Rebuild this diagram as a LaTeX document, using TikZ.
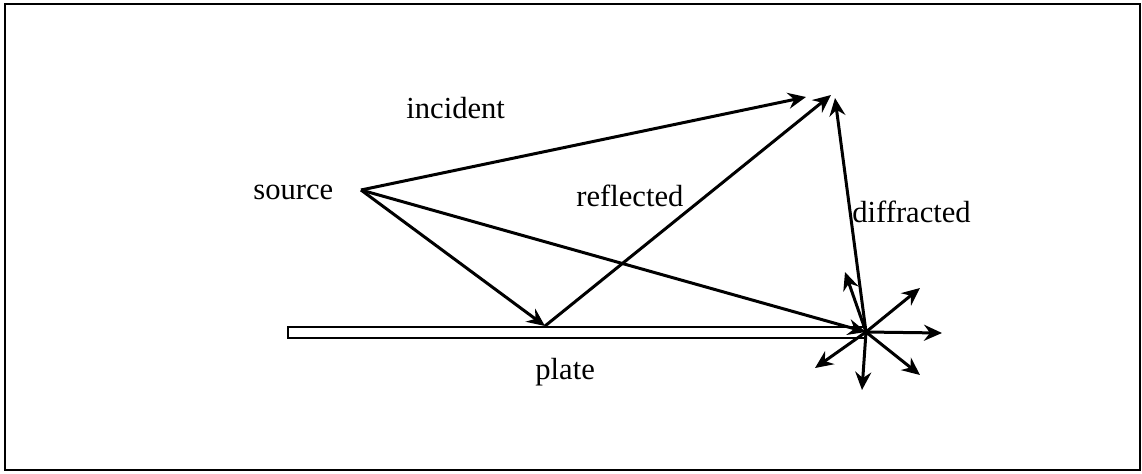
\documentclass[tikz,border=0pt]{standalone}
\usepackage{fontspec}
\setmainfont{Liberation Serif}
\usetikzlibrary{arrows.meta}
\begin{document}
\begin{tikzpicture}[x=0.5pt,y=-0.5pt,
  ray/.style={line width=1.5pt,-{Stealth[length=9pt,width=8pt,inset=3pt]}},
  lbl/.style={anchor=base west,inner sep=0pt,font=\fontsize{15.3pt}{18pt}\selectfont}]
\useasboundingbox (0,0) rectangle (1142,473);
\draw[line width=1.2pt] (5,4) rectangle (1140,470);
% plate
\draw[line width=1pt] (288,327) rectangle (866,338);
% points
\coordinate (S) at (361,190);
\coordinate (I) at (806,97);
\coordinate (R) at (545,326);
\coordinate (RT) at (831,95);
\coordinate (H) at (866,332);
\coordinate (DT) at (835,98);
\coordinate (A1) at (845,272);
\coordinate (A2) at (920,288);
\coordinate (A3) at (942,333);
\coordinate (A4) at (920,375);
\coordinate (A5) at (862,390);
\coordinate (A6) at (815,368);
% rays
\draw[ray] (S) -- (I);
\draw[ray] (S) -- (R);
\draw[ray] (R) -- (RT);
\draw[ray] (S) -- (H);
\draw[ray] (H) -- (DT);
\foreach \p in {A1,A2,A3,A4,A5,A6} \draw[ray] (H) -- (\p);
% labels
\node[lbl] (src) at (253,199) {source};
\node[lbl] (inc) at (406,118) {incident};
\node[lbl] (ref) at (576,206) {reflected};
\node[lbl] (dif) at (852,222) {diffracted};
\node[lbl] (plt) at (535,379) {plate};
\end{tikzpicture}
\end{document}
